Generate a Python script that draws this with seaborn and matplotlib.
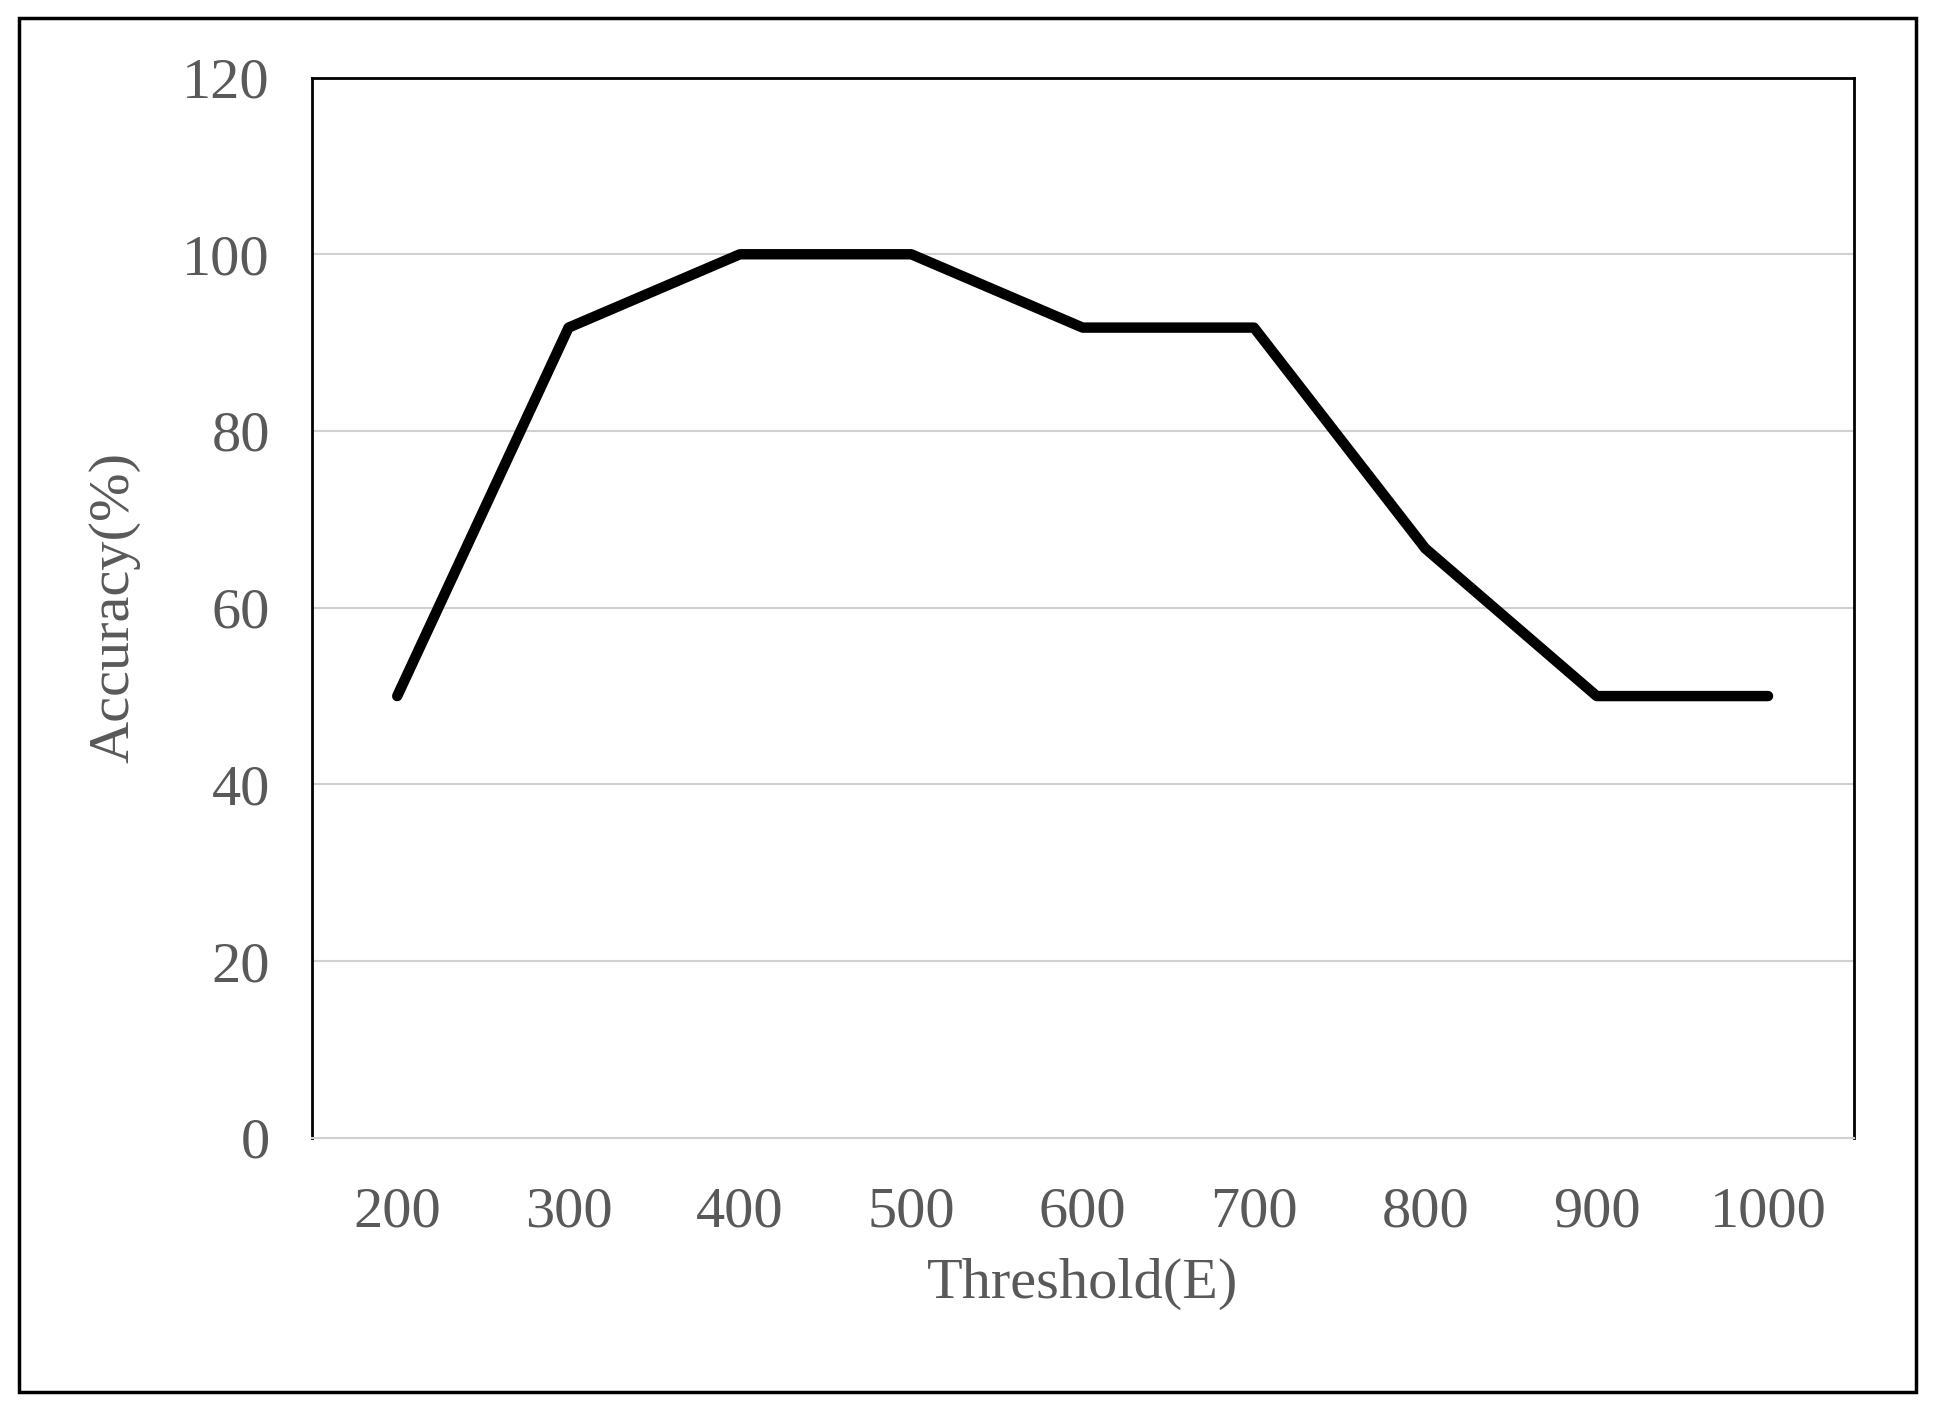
import matplotlib
matplotlib.use("Agg")
import matplotlib.pyplot as plt
import seaborn as sns
import pandas as pd
from matplotlib.patches import Rectangle

thresholds = ["200", "300", "400", "500", "600", "700", "800", "900", "1000"]
accuracy = [50, 91.7, 100, 100, 91.7, 91.7, 66.7, 50, 50]

sns.set_style("white")
plt.rcParams['font.family'] = ['Liberation Serif', 'DejaVu Serif']

df = pd.DataFrame({"Threshold": thresholds, "Accuracy": accuracy})
fig = plt.figure(figsize=(19.35, 14.1), dpi=100)
ax = fig.add_axes([0.161, 0.193, 0.797, 0.752])
sns.lineplot(data=df, x="Threshold", y="Accuracy", color="black", linewidth=7.5, ax=ax, sort=False)
ax.set_xlim(-0.5, 8.5)
ax.set_ylim(0, 120)
ax.set_yticks(range(0, 121, 20))
ax.yaxis.grid(True, color="#d0d0d0", linewidth=1.5)
ax.set_axisbelow(True)
for s in ["left", "top", "right"]:
    ax.spines[s].set_color("black"); ax.spines[s].set_linewidth(2)
ax.spines["bottom"].set_color("#d0d0d0"); ax.spines["bottom"].set_linewidth(1.5)
ax.tick_params(axis="y", labelsize=42, colors="#595959", length=0, pad=30)
ax.tick_params(axis="x", labelsize=42, colors="#595959", length=0, pad=35)
ax.set_xlabel("Threshold(E)", fontsize=42, color="#595959", labelpad=14)
ax.set_ylabel("Accuracy(%)", fontsize=42, color="#595959", labelpad=30)
fig.patches.append(Rectangle((0.01, 0.013), 0.98, 0.974, transform=fig.transFigure,
                             fill=False, edgecolor="black", linewidth=2.5))
fig.savefig("out.png", dpi=100)
